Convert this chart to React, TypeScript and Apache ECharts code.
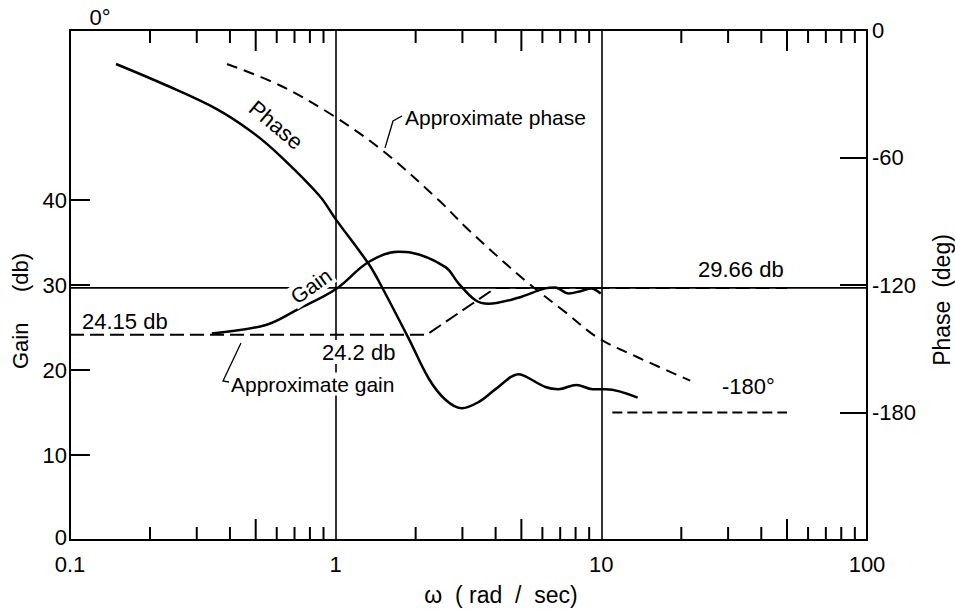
import React, { useEffect, useRef } from "react";
import * as echarts from "echarts";

const FONT = '"Liberation Sans", Arial, sans-serif';

// Frequency axis (rad/sec), log scale
const xTickLabels = ["0.1", "1", "10", "100"];
const tickDecades = [0.1, 1, 10];
const tickMultipliers = [2, 3, 4, 5, 6, 7, 8, 9];

// Measured phase (deg)
const phaseFreq = [0.149, 0.23, 0.354, 0.484, 0.615, 0.869, 1.0, 1.33, 1.45, 1.88, 2.24, 2.59, 2.99, 3.46, 4.0, 4.89, 5.18, 6.16, 6.9, 8.05, 9.27, 10.4, 13.7];
const phaseDeg = [-16, -26, -37, -48, -59, -78, -89, -110, -118, -145, -164, -174, -178, -175, -169, -162, -163, -168, -169, -167, -169, -169, -173];

// Approximate phase (deg)
const approxPhaseFreq = [0.39, 0.615, 0.97, 1.51, 2.44, 3.16, 5.18, 7.36, 9.75, 13.7, 21.6];
const approxPhaseDeg = [-16, -26, -40, -57, -80, -94, -118, -133, -145, -154, -165];

// Measured gain (db)
const gainFreq = [0.342, 0.546, 0.726, 1.0, 1.33, 1.72, 1.93, 2.59, 2.9, 3.36, 3.76, 4.87, 6.15, 6.7, 7.53, 8.4, 9.15, 9.95];
const gainDb = [24.3, 25.3, 27.2, 29.5, 32.7, 33.9, 33.8, 32.1, 30.2, 28.2, 27.8, 28.5, 29.6, 29.7, 29.0, 29.3, 29.6, 29.0];

// Approximate gain (db)
const approxGainFreq = [0.1, 2.2, 4.0, 50];
const approxGainDb = [24.15, 24.15, 29.66, 29.66];

// Reference levels
const highGainFreq = [0.1, 100];
const highGainDb = [29.66, 29.66];
const phase180Freq = [11, 50];
const phase180Deg = [-180, -180];

// Axis ticks
const gainTickValues = [10, 20, 30, 40];
const gainLabelValues = [0, 10, 20, 30, 40];
const phaseTickValues = [-60, -120, -180];
const phaseLabelValues = [0, -60, -120, -180];

const zip = (xs: number[], ys: number[]) => xs.map((x, i) => [x, ys[i]]);

const minorTicks: number[][] = [];
tickDecades.forEach((d) => tickMultipliers.forEach((m) => minorTicks.push([d * m, m])));

const txt = (
  text: string,
  x: number,
  y: number,
  opts: { size?: number; align?: string; rotation?: number; bg?: boolean } = {}
) => ({
  type: "text",
  x,
  y,
  rotation: opts.rotation || 0,
  z: 50,
  style: {
    text,
    font: `${opts.size || 21}px ${FONT}`,
    fill: "#000",
    align: opts.align || "left",
    verticalAlign: "middle",
    textAlign: opts.align || "left",
    textVerticalAlign: "middle",
    backgroundColor: opts.bg ? "#fff" : undefined,
    padding: opts.bg ? [1, 2] : undefined,
  },
});

export default function App() {
  const ref = useRef<HTMLDivElement>(null);

  useEffect(() => {
    document.body.style.margin = "0";
    const chart = echarts.init(ref.current!, null, { renderer: "svg" });

    const lineStyleSolid = { color: "#000", width: 2.5 };
    const lineStyleDash = { color: "#000", width: 2, type: [11, 7] };

    chart.setOption({
      animation: false,
      backgroundColor: "#fff",
      textStyle: { fontFamily: FONT, color: "#000" },
      grid: {
        left: 70,
        right: 88,
        top: 30,
        bottom: 71,
        show: true,
        borderColor: "#000",
        borderWidth: 2,
      },
      xAxis: {
        type: "log",
        logBase: 10,
        min: 0.1,
        max: 100,
        axisLine: { show: true, lineStyle: { color: "#000", width: 2 } },
        axisTick: { show: false },
        axisLabel: {
          fontSize: 22,
          color: "#000",
          margin: 13,
          formatter: (v: number) => xTickLabels[Math.round(Math.log10(v)) + 1] ?? "",
        },
        splitLine: { show: true, lineStyle: { color: "#000", width: 1.6 } },
      },
      yAxis: [
        {
          type: "value",
          min: 0,
          max: 60,
          interval: 10,
          axisLine: { show: true, lineStyle: { color: "#000", width: 2 } },
          axisTick: {
            show: true,
            inside: true,
            length: 20,
            customValues: gainTickValues,
            lineStyle: { color: "#000", width: 2 },
          },
          axisLabel: {
            fontSize: 22,
            color: "#000",
            margin: 3,
            customValues: gainLabelValues,
            formatter: (v: number) => (v === 0 ? "{z|0}" : String(v)),
            rich: { z: { fontSize: 22, color: "#000", padding: [0, 0, 6, 0] } },
          },
          splitLine: { show: false },
        },
        {
          type: "value",
          min: -240,
          max: 0,
          interval: 60,
          position: "right",
          axisLine: { show: true, lineStyle: { color: "#000", width: 2 } },
          axisTick: {
            show: true,
            inside: true,
            length: 27,
            customValues: phaseTickValues,
            lineStyle: { color: "#000", width: 2 },
          },
          axisLabel: {
            fontSize: 22,
            color: "#000",
            margin: 5,
            customValues: phaseLabelValues,
          },
          splitLine: { show: false },
        },
      ],
      series: [
        {
          name: "Phase",
          type: "line",
          yAxisIndex: 1,
          data: zip(phaseFreq, phaseDeg),
          smooth: 0.35,
          showSymbol: false,
          lineStyle: lineStyleSolid,
        },
        {
          name: "Approximate phase",
          type: "line",
          yAxisIndex: 1,
          data: zip(approxPhaseFreq, approxPhaseDeg),
          smooth: 0.35,
          showSymbol: false,
          lineStyle: lineStyleDash,
        },
        {
          name: "Gain",
          type: "line",
          yAxisIndex: 0,
          data: zip(gainFreq, gainDb),
          smooth: 0.35,
          showSymbol: false,
          lineStyle: lineStyleSolid,
        },
        {
          name: "Approximate gain",
          type: "line",
          yAxisIndex: 0,
          data: zip(approxGainFreq, approxGainDb),
          showSymbol: false,
          lineStyle: { color: "#000", width: 2, type: [14, 6] },
        },
        {
          name: "29.66 db",
          type: "line",
          yAxisIndex: 0,
          data: zip(highGainFreq, highGainDb),
          showSymbol: false,
          lineStyle: { color: "#000", width: 1.6 },
        },
        {
          name: "-180°",
          type: "line",
          yAxisIndex: 1,
          data: zip(phase180Freq, phase180Deg),
          showSymbol: false,
          lineStyle: { color: "#000", width: 2, type: [10, 5] },
        },
        {
          name: "log ticks",
          type: "custom",
          xAxisIndex: 0,
          yAxisIndex: 0,
          clip: false,
          silent: true,
          data: minorTicks,
          encode: { x: 0 },
          renderItem: (_params: any, api: any) => {
            const v = api.value(0);
            const m = api.value(1);
            const len = m === 5 ? 21 : 13;
            const [x, yb] = api.coord([v, 0]);
            const yt = api.coord([v, 60])[1];
            const st = { stroke: "#000", lineWidth: 2 };
            return {
              type: "group",
              children: [
                { type: "line", shape: { x1: x, y1: yb, x2: x, y2: yb - len }, style: st },
                { type: "line", shape: { x1: x, y1: yt, x2: x, y2: yt + len }, style: st },
              ],
            };
          },
        },
      ],
      graphic: [
        // axis titles
        txt("Gain     (db)", 20, 311, { size: 22, align: "center", rotation: Math.PI / 2 }),
        txt("Phase  (deg)", 942, 300, { size: 23, align: "center", rotation: Math.PI / 2 }),
        txt("ω  ( rad  /  sec)", 501, 595, { size: 23, align: "center" }),
        txt("0°", 100, 17, { size: 22, align: "center" }),
        // curve annotations
        txt("Phase", 276, 125, { size: 22, align: "center", rotation: -0.7 }),
        txt("Gain", 311, 286, { size: 21, align: "center", rotation: 0.62, bg: true }),
        txt("Approximate phase", 405, 117),
        txt("24.15 db", 82, 321, { size: 22 }),
        txt("24.2 db", 320, 352, { size: 22, bg: true }),
        txt("Approximate gain", 229, 384, { bg: true }),
        txt("29.66 db", 698, 269, { size: 22 }),
        txt("-180°", 722, 386, { size: 22 }),
        {
          type: "polyline",
          z: 50,
          shape: { points: [[385, 148], [393, 121], [402, 116]] },
          style: { stroke: "#000", lineWidth: 1.3, fill: null },
        },
        {
          type: "polyline",
          z: 50,
          shape: { points: [[241, 343], [223, 381], [229, 382]] },
          style: { stroke: "#000", lineWidth: 1.3, fill: null },
        },
      ],
    });

    return () => chart.dispose();
  }, []);

  return <div ref={ref} style={{ width: 955, height: 611 }} />;
}
